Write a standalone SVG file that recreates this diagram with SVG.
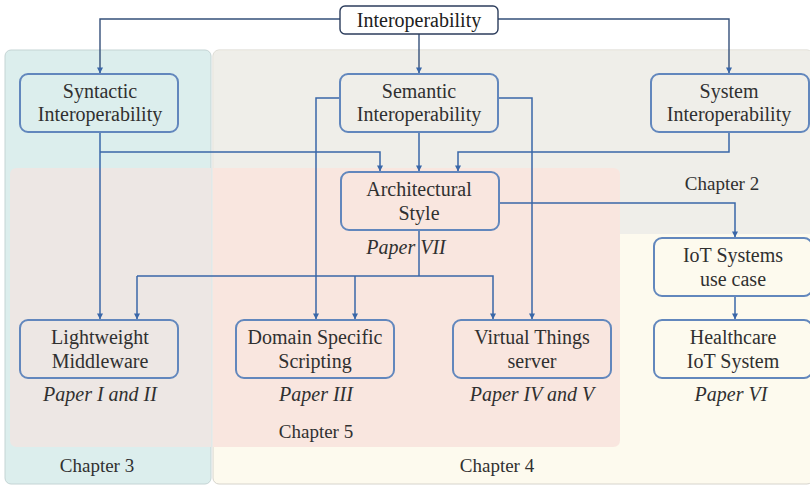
<svg xmlns="http://www.w3.org/2000/svg" width="810" height="486" viewBox="0 0 810 486" font-family="'Liberation Serif', 'Times New Roman', serif">
  <defs>
    <marker id="arr" viewBox="0 0 8 8" refX="7.5" refY="4" markerWidth="6" markerHeight="6" orient="auto" markerUnits="userSpaceOnUse">
      <path d="M0,0 L8,4 L0,8 z" fill="#3a67a8"/>
    </marker>
  </defs>
  <rect width="810" height="486" fill="#ffffff"/>
  <g id="chapter-panels">
    <rect x="5" y="50" width="206" height="434" rx="6" fill="#dceeed" stroke="#c4d4d4" stroke-width="1"/>
    <rect x="213" y="50" width="600" height="434" rx="6" fill="#fdfaee" stroke="#d6d4cc" stroke-width="1"/>
    <path d="M213.5,56 Q213.5,50.5 219,50.5 L810,50.5 L810,234 L213.5,234 z" fill="#efeee9"/>
    <path d="M211,168 H17 Q10,168 10,175 V440 Q10,447 17,447 H211 z" fill="#ede7e4"/>
    <path d="M213,168 H613 Q620,168 620,175 V440 Q620,447 613,447 H213 z" fill="#f9e6df"/>
  </g>
  <g id="connectors" fill="none" stroke="#3a67a8" stroke-width="1.5">
    <g stroke="#35507a" stroke-width="1.4">
      <path d="M340,19 H100 V73" marker-end="url(#arr)"/>
      <path d="M498,19 H729 V73" marker-end="url(#arr)"/>
      <path d="M419,34 V73" marker-end="url(#arr)"/>
    </g>
    <path d="M100,132 V319" marker-end="url(#arr)"/>
    <path d="M100,152 H380 V171" marker-end="url(#arr)"/>
    <path d="M419,132 V171" marker-end="url(#arr)"/>
    <path d="M729,132 V152 H458 V171" marker-end="url(#arr)"/>
    <path d="M340,98 H316 V319" marker-end="url(#arr)"/>
    <path d="M498,98 H532 V319" marker-end="url(#arr)"/>
    <path d="M498,203 H735 V237" marker-end="url(#arr)"/>
    <path d="M419,231 V276"/>
    <path d="M137,276 V319" marker-end="url(#arr)"/>
    <path d="M137,276 H493 V319" marker-end="url(#arr)"/>
    <path d="M355,276 V319" marker-end="url(#arr)"/>
    <path d="M735,297 V319" marker-end="url(#arr)"/>
  </g>
  <g id="interoperability">
    <rect x="340" y="6" width="158" height="28" rx="5" fill="#ffffff" stroke="#2c3d5c" stroke-width="1.4"/>
    <text x="419" y="27" font-size="20" fill="#202020" text-anchor="middle">Interoperability</text>
  </g>
  <g id="syntactic" fill="#303030" text-anchor="middle" font-size="20">
    <rect x="20" y="74" width="158" height="58" rx="8" fill="none" stroke="#6287bd" stroke-width="2"/>
    <text x="100" y="98">Syntactic</text>
    <text x="100" y="121">Interoperability</text>
  </g>
  <g id="semantic" fill="#303030" text-anchor="middle" font-size="20">
    <rect x="340" y="74" width="158" height="58" rx="8" fill="none" stroke="#6287bd" stroke-width="2"/>
    <text x="419" y="98">Semantic</text>
    <text x="419" y="121">Interoperability</text>
  </g>
  <g id="system" fill="#303030" text-anchor="middle" font-size="20">
    <rect x="651" y="74" width="158" height="58" rx="8" fill="none" stroke="#6287bd" stroke-width="2"/>
    <text x="729" y="98">System</text>
    <text x="729" y="121">Interoperability</text>
  </g>
  <g id="architectural-style" fill="#303030" text-anchor="middle" font-size="20">
    <rect x="341" y="172" width="158" height="58" rx="8" fill="none" stroke="#6287bd" stroke-width="2"/>
    <text x="419" y="196">Architectural</text>
    <text x="419" y="220">Style</text>
  </g>
  <g id="iot-use-case" fill="#303030" text-anchor="middle" font-size="20">
    <rect x="654" y="238" width="158" height="58" rx="8" fill="none" stroke="#6287bd" stroke-width="2"/>
    <text x="733" y="262">IoT Systems</text>
    <text x="733" y="286">use case</text>
  </g>
  <g id="healthcare" fill="#303030" text-anchor="middle" font-size="20">
    <rect x="654" y="320" width="158" height="58" rx="8" fill="none" stroke="#6287bd" stroke-width="2"/>
    <text x="733" y="344">Healthcare</text>
    <text x="733" y="368">IoT System</text>
  </g>
  <g id="middleware" fill="#303030" text-anchor="middle" font-size="20">
    <rect x="20" y="320" width="158" height="58" rx="8" fill="none" stroke="#6287bd" stroke-width="2"/>
    <text x="100" y="344">Lightweight</text>
    <text x="100" y="368">Middleware</text>
  </g>
  <g id="scripting" fill="#303030" text-anchor="middle" font-size="20">
    <rect x="236" y="320" width="158" height="58" rx="8" fill="none" stroke="#6287bd" stroke-width="2"/>
    <text x="315" y="344">Domain Specific</text>
    <text x="315" y="368">Scripting</text>
  </g>
  <g id="virtual-things" fill="#303030" text-anchor="middle" font-size="20">
    <rect x="453" y="320" width="158" height="58" rx="8" fill="none" stroke="#6287bd" stroke-width="2"/>
    <text x="532" y="344">Virtual Things</text>
    <text x="532" y="368">server</text>
  </g>
  <text x="406" y="254" font-size="20" font-style="italic" fill="#303030" text-anchor="middle">Paper VII</text>
  <text x="100" y="401" font-size="20" font-style="italic" fill="#303030" text-anchor="middle">Paper I and II</text>
  <text x="316" y="401" font-size="20" font-style="italic" fill="#303030" text-anchor="middle">Paper III</text>
  <text x="532" y="401" font-size="20" font-style="italic" fill="#303030" text-anchor="middle">Paper IV and V</text>
  <text x="731" y="401" font-size="20" font-style="italic" fill="#303030" text-anchor="middle">Paper VI</text>
  <text x="722" y="190" font-size="19" fill="#303030" text-anchor="middle">Chapter 2</text>
  <text x="316" y="438" font-size="19" fill="#303030" text-anchor="middle">Chapter 5</text>
  <text x="97" y="472" font-size="19" fill="#303030" text-anchor="middle">Chapter 3</text>
  <text x="497" y="472" font-size="19" fill="#303030" text-anchor="middle">Chapter 4</text>
</svg>
